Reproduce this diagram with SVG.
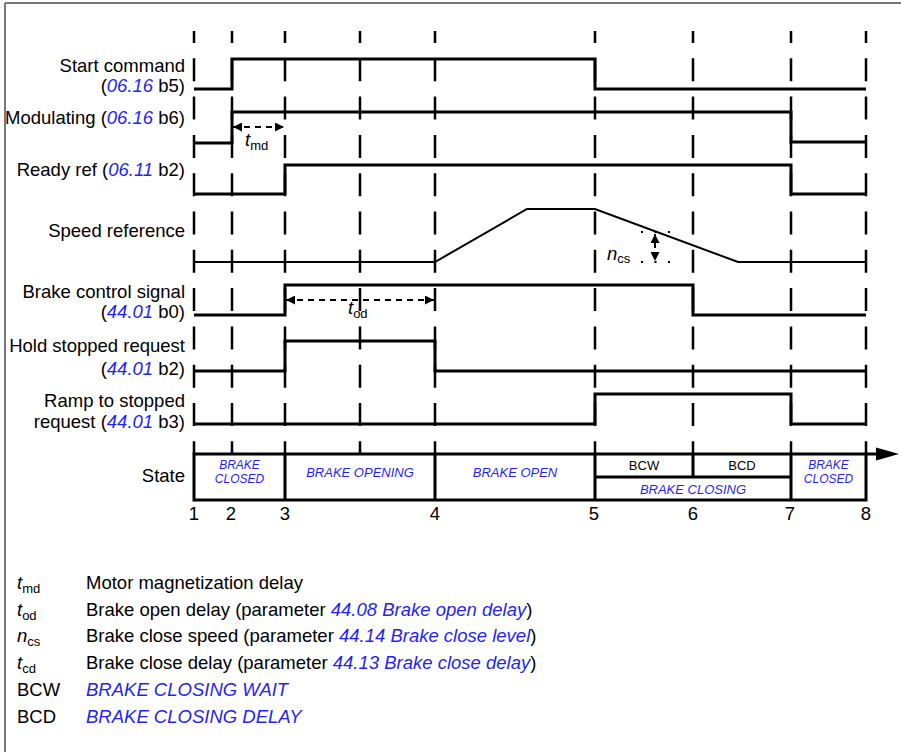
<svg xmlns="http://www.w3.org/2000/svg" width="901" height="752" viewBox="0 0 901 752">
<defs>
<marker id="ah" viewBox="0 0 10 10" refX="10" refY="5" markerUnits="userSpaceOnUse" markerWidth="9" markerHeight="9" orient="auto-start-reverse"><path d="M0,0 L10,5 L0,10 z" fill="#000"/></marker>
</defs>
<style>
text{font-family:"Liberation Sans",Arial,Helvetica,sans-serif;fill:#000;font-size:18.5px}
.lbl{text-anchor:end}
.blue{fill:#1f1fff;font-style:italic}
.it{font-style:italic}
.sub{font-size:13px}
.sig{fill:none;stroke:#000;stroke-width:3;stroke-linejoin:miter}
.spd{fill:none;stroke:#000;stroke-width:2}
.grid{stroke:#000;stroke-width:2.5;stroke-dasharray:23 15.3;stroke-dashoffset:11}
.dim{stroke:#000;stroke-width:2;stroke-dasharray:6 5;marker-start:url(#ah);marker-end:url(#ah)}
.dot{stroke:#000;stroke-width:2;stroke-dasharray:2 11.5}
.box{fill:none;stroke:#000;stroke-width:3}
.st{font-size:13px;text-anchor:middle}
.st2{font-size:12px;text-anchor:middle}
.num{text-anchor:middle}
</style>
<rect x="0" y="0" width="901" height="752" fill="#fff"/>
<path d="M5,3 H901 M5,3 V752" fill="none" stroke="#777" stroke-width="2"/>

<g id="grid">
<line class="grid" x1="194" y1="31" x2="194" y2="454"/>
<line class="grid" x1="232" y1="31" x2="232" y2="454"/>
<line class="grid" x1="285" y1="31" x2="285" y2="454"/>
<line class="grid" x1="360" y1="31" x2="360" y2="454"/>
<line class="grid" x1="435" y1="31" x2="435" y2="454"/>
<line class="grid" x1="595" y1="31" x2="595" y2="454"/>
<line class="grid" x1="693" y1="31" x2="693" y2="454"/>
<line class="grid" x1="791" y1="31" x2="791" y2="454"/>
<line class="grid" x1="866" y1="31" x2="866" y2="454"/>
</g>

<g id="start-command">
<text class="lbl" x="185" y="72">Start command</text>
<text class="lbl" x="185" y="92">(<tspan class="blue">06.16</tspan> b5)</text>
<polyline class="sig" points="194,89 232,89 232,59 595,59 595,89 866,89"/>
</g>

<g id="modulating">
<text class="lbl" x="185" y="124">Modulating (<tspan class="blue">06.16</tspan> b6)</text>
<polyline class="sig" points="194,143 232,143 232,112 791,112 791,142 866,142"/>
</g>

<g id="ready-ref">
<text class="lbl" x="185" y="176">Ready ref (<tspan class="blue">06.11</tspan> b2)</text>
<polyline class="sig" points="194,194 285,194 285,165 791,165 791,194 866,194"/>
</g>

<g id="speed-reference">
<text class="lbl" x="185" y="237">Speed reference</text>
<polyline class="spd" points="194,262 435,262 527,209 595,209 738,262 866,262"/>
</g>

<g id="brake-control-signal">
<text class="lbl" x="185" y="298">Brake control signal</text>
<text class="lbl" x="185" y="318">(<tspan class="blue">44.01</tspan> b0)</text>
<polyline class="sig" points="194,315 285,315 285,285 693,285 693,315 866,315"/>
</g>

<g id="hold-stopped-request">
<text class="lbl" x="185" y="352">Hold stopped request</text>
<text class="lbl" x="185" y="375">(<tspan class="blue">44.01</tspan> b2)</text>
<polyline class="sig" points="194,371 285,371 285,341 435,341 435,371 866,371"/>
</g>

<g id="ramp-to-stopped-request">
<text class="lbl" x="185" y="407">Ramp to stopped</text>
<text class="lbl" x="185" y="428">request (<tspan class="blue">44.01</tspan> b3)</text>
<polyline class="sig" points="194,424 595,424 595,394 791,394 791,424 866,424"/>
</g>

<g id="connectors">
<line class="dim" x1="233" y1="127" x2="284" y2="127"/>
<line class="dim" x1="286" y1="300" x2="434" y2="300"/>
<line class="dot" x1="641" y1="232" x2="670" y2="232"/>
<line class="dot" x1="641" y1="262" x2="670" y2="262"/>
<line class="dim" x1="655" y1="234" x2="655" y2="261" style="stroke-dasharray:5 4"/>
</g>

<g id="dimension-labels">
<text x="245" y="146"><tspan class="it">t</tspan><tspan class="sub" dy="4">md</tspan></text>
<text x="348" y="314"><tspan class="it">t</tspan><tspan class="sub" dy="4">od</tspan></text>
<text x="607" y="260"><tspan class="it">n</tspan><tspan class="sub" dy="3">cs</tspan></text>
</g>

<g id="state">
<text class="lbl" x="185" y="482">State</text>
<rect class="box" x="194" y="454" width="672" height="46"/>
<path class="box" d="M285,454 V500 M435,454 V500 M595,454 V500 M791,454 V500 M693,454 V477 M595,477 H791"/>
<line x1="866" y1="454" x2="878" y2="454" stroke="#000" stroke-width="3"/>
<polygon points="876,447.5 899,454 876,460.5" fill="#000"/>
<text class="st2 blue" x="239.5" y="469">BRAKE</text>
<text class="st2 blue" x="239.5" y="483">CLOSED</text>
<text class="st blue" x="360" y="477">BRAKE OPENING</text>
<text class="st blue" x="515" y="477">BRAKE OPEN</text>
<text class="st" x="644" y="470">BCW</text>
<text class="st" x="742" y="470">BCD</text>
<text class="st blue" x="693" y="494">BRAKE CLOSING</text>
<text class="st2 blue" x="828.5" y="469">BRAKE</text>
<text class="st2 blue" x="828.5" y="483">CLOSED</text>
</g>

<g id="ticks">
<text class="num" x="194" y="520">1</text>
<text class="num" x="231" y="520">2</text>
<text class="num" x="285" y="520">3</text>
<text class="num" x="435" y="520">4</text>
<text class="num" x="594" y="520">5</text>
<text class="num" x="693" y="520">6</text>
<text class="num" x="790" y="520">7</text>
<text class="num" x="866" y="520">8</text>
</g>

<g id="legend">
<text x="17" y="589"><tspan class="it">t</tspan><tspan class="sub" dy="4">md</tspan></text>
<text x="86" y="589">Motor magnetization delay</text>
<text x="17" y="616"><tspan class="it">t</tspan><tspan class="sub" dy="4">od</tspan></text>
<text x="86" y="616">Brake open delay (parameter <tspan class="blue">44.08 Brake open delay</tspan>)</text>
<text x="17" y="642"><tspan class="it">n</tspan><tspan class="sub" dy="4">cs</tspan></text>
<text x="86" y="642">Brake close speed (parameter <tspan class="blue">44.14 Brake close level</tspan>)</text>
<text x="17" y="669"><tspan class="it">t</tspan><tspan class="sub" dy="4">cd</tspan></text>
<text x="86" y="669">Brake close delay (parameter <tspan class="blue">44.13 Brake close delay</tspan>)</text>
<text x="17" y="696">BCW</text>
<text x="86" y="696" class="blue">BRAKE CLOSING WAIT</text>
<text x="17" y="723">BCD</text>
<text x="86" y="723" class="blue">BRAKE CLOSING DELAY</text>
</g>
</svg>
